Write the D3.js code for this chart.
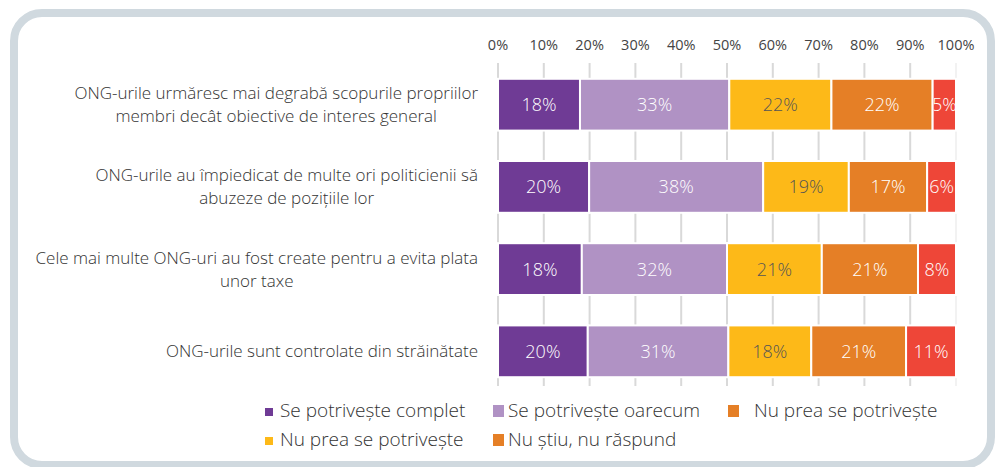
<!DOCTYPE html>
<html>
<head>
<meta charset="utf-8">
<script src="https://cdn.jsdelivr.net/npm/d3@7"></script>
<style>
  html, body { margin: 0; padding: 0; background: #fff; }
  svg { display: block; font-family: "Open Sans", "Noto Sans", sans-serif; }
</style>
</head>
<body>
<svg id="chart" width="996" height="467"></svg>
<script>
// statements (each one split into the lines shown on the chart)
const statements = [
  ["ONG-urile urmăresc mai degrabă scopurile propriilor", "membri decât obiective de interes general"],
  ["ONG-urile au împiedicat de multe ori politicienii să", "abuzeze de pozițiile lor"],
  ["Cele mai multe ONG-uri au fost create pentru a evita plata", "unor taxe"],
  ["ONG-urile sunt controlate din străinătate"]
];

// answer shares per statement, in %
const complet  = [17.9, 19.9, 18.3, 19.6];
const oarecum  = [32.6, 38.0, 31.7, 30.7];
const nuPrea   = [22.3, 18.7, 20.7, 18.1];
const deloc    = [22.1, 17.1, 21.0, 20.7];
const nuStiu   = [5.1, 6.3, 8.3, 10.9];

const seriesKeys = ["complet", "oarecum", "nuPrea", "deloc", "nuStiu"];
const seriesColors = ["#6f3b95", "#b092c4", "#fdb918", "#e57f26", "#ee4638"];
const labelColors = ["#fff", "#fff", "#555", "#fff", "#fff"];

const ticks = [0, 10, 20, 30, 40, 50, 60, 70, 80, 90, 100];

// legend as it appears in the source (third entry repeats a label)
const legendLabels = [
  "Se potrivește complet", "Se potrivește oarecum", "Nu prea se potrivește",
  "Nu prea se potrivește", "Nu știu, nu răspund"
];
const legendColors = ["#6f3b95", "#b092c4", "#e57f26", "#fdb918", "#e57f26"];

const rows = statements.map((s, i) => ({
  id: i,
  complet: complet[i],
  oarecum: oarecum[i],
  nuPrea: nuPrea[i],
  deloc: deloc[i],
  nuStiu: nuStiu[i]
}));

const svg = d3.select("#chart");

// rounded frame
svg.append("rect")
  .attr("x", 14).attr("y", 13)
  .attr("width", 977).attr("height", 452)
  .attr("rx", 28)
  .attr("fill", "#fff")
  .attr("stroke", "#d0d9df")
  .attr("stroke-width", 8);

const x = d3.scaleLinear().domain([0, 100]).range([498, 956]);
const y = d3.scaleBand().domain(rows.map(d => d.id)).range([64, 392])
  .paddingInner(0.37).paddingOuter(0.18);

// grid lines
svg.append("g")
  .selectAll("line")
  .data(ticks)
  .join("line")
  .attr("x1", d => x(d)).attr("x2", d => x(d))
  .attr("y1", 63).attr("y2", 386)
  .attr("stroke", d => d === 100 ? "#f2f2f2" : "#d9d9d9")
  .attr("stroke-width", 2);

// top axis labels
svg.append("g")
  .selectAll("text")
  .data(ticks)
  .join("text")
  .attr("x", d => x(d))
  .attr("y", 50)
  .attr("text-anchor", "middle")
  .attr("fill", "#444")
  .style("font-size", "14.5px")
  .text(d => d + "%");

const stacked = d3.stack().keys(seriesKeys)(rows);
const defs = svg.append("defs");

const layers = svg.append("g")
  .selectAll("g")
  .data(stacked)
  .join("g");

layers.each(function (layer, li) {
  const g = d3.select(this);
  layer.forEach((d, ri) => {
    const x0 = x(d[0]), x1 = x(d[1]);
    const y0 = y(ri), h = y.bandwidth();
    const cid = `clip-${li}-${ri}`;
    defs.append("clipPath").attr("id", cid)
      .append("rect")
      .attr("x", x0 + 1).attr("y", y0)
      .attr("width", Math.max(0, x1 - x0 - 2)).attr("height", h);
    g.append("rect")
      .attr("x", x0).attr("y", y0)
      .attr("width", x1 - x0).attr("height", h)
      .attr("fill", seriesColors[li])
      .attr("stroke", "#fff")
      .attr("stroke-width", 2);
    g.append("text")
      .attr("clip-path", `url(#${cid})`)
      .attr("x", (x0 + x1) / 2)
      .attr("y", y0 + h / 2 + 6.5)
      .attr("text-anchor", "middle")
      .attr("fill", labelColors[li])
      .style("font-size", "18px")
      .style("font-weight", 300)
      .text(Math.round(d[1] - d[0]) + "%");
  });
});

// statement labels, centred blocks with their widest line ending at x=478
const catG = svg.append("g");
statements.forEach((lines, i) => {
  const cy = y(i) + y.bandwidth() / 2;
  const t = catG.append("text")
    .attr("text-anchor", "middle")
    .attr("fill", "#333")
    .style("font-size", "17px")
    .style("font-weight", 300);
  const lh = 23;
  const top = cy - (lines.length - 1) * lh / 2;
  const spans = lines.map((ln, k) =>
    t.append("tspan").attr("y", top + k * lh + 6).text(ln));
  const w = d3.max(spans, s => s.node().getComputedTextLength());
  spans.forEach(s => s.attr("x", 478 - w / 2));
});

// legend
const legendPos = [
  { x: 265, y: 417 }, { x: 493, y: 417 }, { x: 728, y: 417 },
  { x: 265, y: 446 }, { x: 493, y: 446 }
];
const legend = svg.append("g");
legendLabels.forEach((lbl, i) => {
  const p = legendPos[i];
  const small = i === 0 || i === 3;
  legend.append("rect")
    .attr("x", p.x).attr("y", small ? p.y - 9 : p.y - 12)
    .attr("width", small ? 8 : 11)
    .attr("height", small ? 8 : 12)
    .attr("fill", legendColors[i]);
  legend.append("text")
    .attr("x", p.x + (i === 2 ? 26 : 15))
    .attr("y", p.y)
    .attr("fill", "#333")
    .style("font-size", "19px")
    .style("font-weight", 300)
    .text(lbl);
});
</script>
</body>
</html>
